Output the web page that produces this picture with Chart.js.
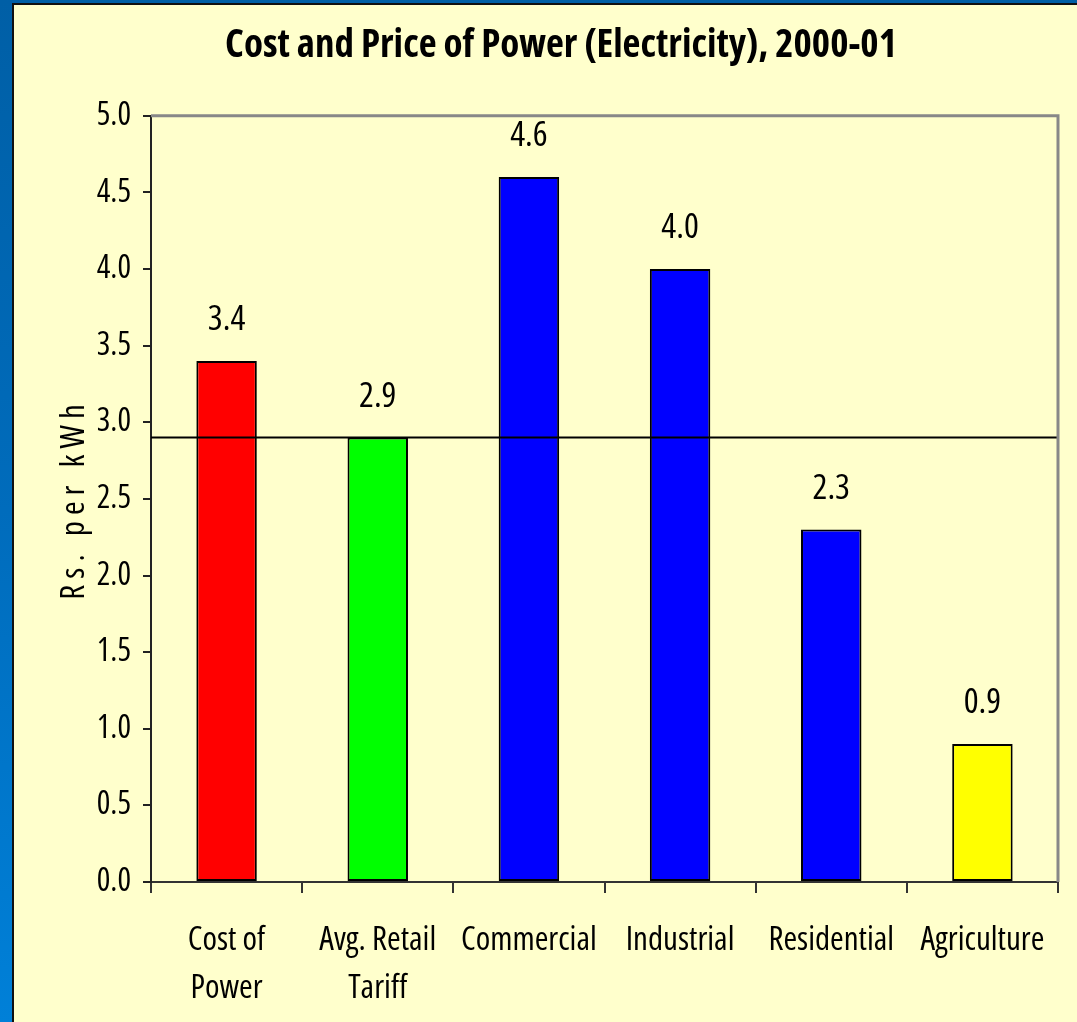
<!DOCTYPE html>
<html>
<head>
<meta charset="utf-8">
<script src="https://cdn.jsdelivr.net/npm/chart.js@4.4.1/dist/chart.umd.min.js"></script>
<style>
  html, body { margin: 0; padding: 0; }
  body {
    width: 1077px; height: 1022px; overflow: hidden; position: relative;
    background: linear-gradient(180deg, #005fa6 0%, #006cbc 50%, #0080d8 100%);
  }
  #panel {
    position: absolute; left: 12px; top: 3px; right: 0; bottom: 0;
    background: #ffffcc; border-left: 2px solid #111; border-top: 2px solid #111;
  }
  #wrap { position: absolute; left: 0; top: 0; width: 1077px; height: 1022px; }
</style>
</head>
<body>
<div id="panel"></div>
<div id="wrap"><canvas id="myBarChart" width="1077" height="1022"></canvas></div>
<script>
// chart data
const categories = [['Cost of', 'Power'], ['Avg. Retail', 'Tariff'], 'Commercial', 'Industrial', 'Residential', 'Agriculture'];
const values = [3.4, 2.9, 4.6, 4.0, 2.3, 0.9];
const barColors = ['#ff0000', '#00ff00', '#0000ff', '#0000ff', '#0000ff', '#ffff00'];
const avgTariff = 2.9;
const yTicks = [0, 0.5, 1, 1.5, 2, 2.5, 3, 3.5, 4, 4.5, 5];

// narrow face: Open Sans at condensed width (passed through the weight slot)
const FONT = "'Open Sans', 'Liberation Sans', sans-serif";

const extras = {
    id: 'extras',
    afterDatasetsDraw(chart) {
        const ctx = chart.ctx;
        const area = chart.chartArea;
        const y = chart.scales.y;

        // average retail tariff line
        const ly = y.getPixelForValue(avgTariff);
        ctx.save();
        ctx.strokeStyle = '#000';
        ctx.lineWidth = 2;
        ctx.beginPath();
        ctx.moveTo(area.left, ly);
        ctx.lineTo(area.right, ly);
        ctx.stroke();

        // gray frame top and right
        ctx.strokeStyle = '#888';
        ctx.lineWidth = 3;
        ctx.beginPath();
        ctx.moveTo(area.left, area.top);
        ctx.lineTo(area.right, area.top);
        ctx.lineTo(area.right, area.bottom);
        ctx.stroke();

        // value labels
        ctx.fillStyle = '#000';
        ctx.font = 'condensed 35px ' + FONT;
        ctx.textAlign = 'center';
        ctx.textBaseline = 'alphabetic';
        chart.getDatasetMeta(0).data.forEach((bar, i) => {
            ctx.fillText(values[i].toFixed(1), bar.x, bar.y - 31);
        });

        // y axis title, letter spaced
        ctx.translate(75, (area.top + area.bottom) / 2);
        ctx.rotate(-Math.PI / 2);
        ctx.font = 'condensed 33px ' + FONT;
        ctx.letterSpacing = '6px';
        ctx.textBaseline = 'middle';
        ctx.fillText('Rs. per kWh', 0, 0);
        ctx.restore();
    }
};

const ctx = document.getElementById('myBarChart').getContext('2d');
new Chart(ctx, {
    type: 'bar',
    data: {
        labels: categories,
        datasets: [{
            data: values,
            backgroundColor: barColors,
            borderColor: '#000',
            borderWidth: 2,
            borderSkipped: false,
            categoryPercentage: 1,
            barPercentage: 0.4
        }]
    },
    options: {
        responsive: false,
        animation: false,
        layout: { padding: { left: 64, right: 19, top: 0, bottom: 0 } },
        plugins: {
            legend: { display: false },
            tooltip: { enabled: false },
            title: {
                display: true,
                text: 'Cost and Price of Power (Electricity), 2000-01',
                color: '#000',
                font: { family: FONT, size: 39, weight: 'bold condensed', lineHeight: 1.2 },
                padding: { top: 22, bottom: 47 }
            }
        },
        scales: {
            x: {
                grid: { display: true, drawOnChartArea: false, offset: true, color: '#333', tickLength: 11, lineWidth: 2 },
                border: { color: '#333', width: 2 },
                ticks: { color: '#000', font: { family: FONT, size: 33, weight: 'condensed', lineHeight: 1.45 }, padding: 24, maxRotation: 0, autoSkip: false },
                afterFit(scale) { scale.height = 140; }
            },
            y: {
                min: 0,
                max: 5,
                afterBuildTicks(scale) { scale.ticks = yTicks.map(v => ({ value: v })); },
                grid: { display: true, drawOnChartArea: false, color: '#222', tickLength: 8, lineWidth: 2 },
                border: { color: '#222', width: 2 },
                ticks: {
                    color: '#000',
                    font: { family: FONT, size: 32, weight: 'condensed' },
                    padding: 12,
                    callback: v => Number(v).toFixed(1)
                },
                afterFit(scale) { scale.width = 87; }
            }
        }
    },
    plugins: [extras]
});
</script>
</body>
</html>
